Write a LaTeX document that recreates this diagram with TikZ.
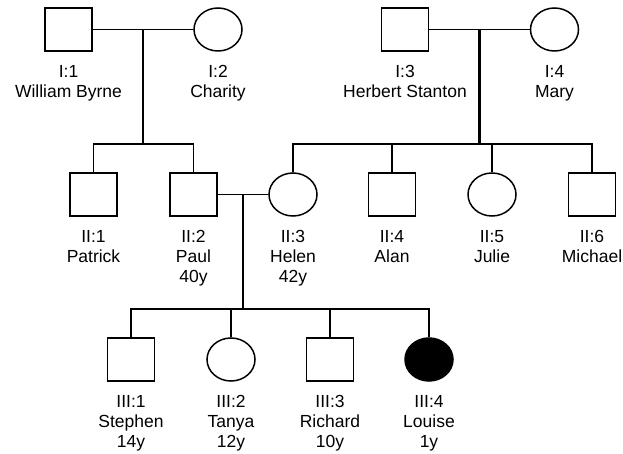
\documentclass[tikz,border=0pt]{standalone}
\usepackage{fontspec}
\newfontfamily\lblfont{Liberation Sans}
\tikzset{
    male/.style={draw, line width=1.5pt, minimum width=47pt, minimum height=43pt, inner sep=0pt},
    female/.style={ellipse, draw, line width=1.5pt, minimum width=48pt, minimum height=43pt, inner sep=0pt},
    affected/.style={female, fill=black},
    lbl/.style={align=center, anchor=north, inner sep=0pt, font={\lblfont\fontsize{17.5}{20}\selectfont}},
    rel/.style={line width=1.5pt},
    desc/.style={line width=2.3pt}
}
\usetikzlibrary{shapes.geometric}
\begin{document}
\begin{tikzpicture}[x=1pt, y=-1pt]
    \useasboundingbox (0,0) rectangle (623,454);
    % generation I
    \foreach \n/\x/\s/\t in {I1/68.5/male/{I:1\\William Byrne}, I2/218/female/{I:2\\Charity},
                            I3/405/male/{I:3\\Herbert Stanton}, I4/554.5/female/{I:4\\Mary}} {
        \node[\s] (\n) at (\x,29.5) {};
        \node[lbl] (\n-lbl) at (\x,65.5) {\t};
    }
    % generation II
    \foreach \n/\x/\s/\t in {II1/93.5/male/{II:1\\Patrick}, II2/193.5/male/{II:2\\Paul\\40y},
                            II3/293/female/{II:3\\Helen\\42y}, II4/392/male/{II:4\\Alan},
                            II5/492/female/{II:5\\Julie}, II6/592/male/{II:6\\Michael}} {
        \node[\s] (\n) at (\x,194.5) {};
        \node[lbl] (\n-lbl) at (\x,230.5) {\t};
    }
    % generation III
    \foreach \n/\x/\s/\t in {III1/131/male/{III:1\\Stephen\\14y}, III2/231/female/{III:2\\Tanya\\12y},
                            III3/330/male/{III:3\\Richard\\10y}, III4/429/affected/{III:4\\Louise\\1y}} {
        \node[\s] (\n) at (\x,359.5) {};
        \node[lbl] (\n-lbl) at (\x,395.5) {\t};
    }
    \coordinate (sib1) at (0,144);
    \coordinate (sib2) at (0,309);

    % couples
    \draw[rel] (I1.east) -- (I2.west) coordinate[midway] (m1);
    \draw[rel] (I3.east) -- (I4.west) coordinate[midway] (m2);
    \draw[rel] (II2.east) -- (II3.west) coordinate[midway] (m3);

    % descent lines
    \draw[desc] (m1) -- (m1 |- sib1);
    \draw[desc] (m2) -- (m2 |- sib1);
    \draw[desc] (m3) -- (m3 |- sib2);

    % sibships
    \draw[rel] (II1.north) -- (II1.north |- sib1) -- (II2.north |- sib1) -- (II2.north);
    \draw[rel] (II3.north) -- (II3.north |- sib1) -- (II6.north |- sib1) -- (II6.north);
    \foreach \c in {II4, II5}
        \draw[rel] (\c.north) -- (\c.north |- sib1);
    \draw[rel] (III1.north) -- (III1.north |- sib2) -- (III4.north |- sib2) -- (III4.north);
    \foreach \c in {III2, III3}
        \draw[rel] (\c.north) -- (\c.north |- sib2);
\end{tikzpicture}
\end{document}
